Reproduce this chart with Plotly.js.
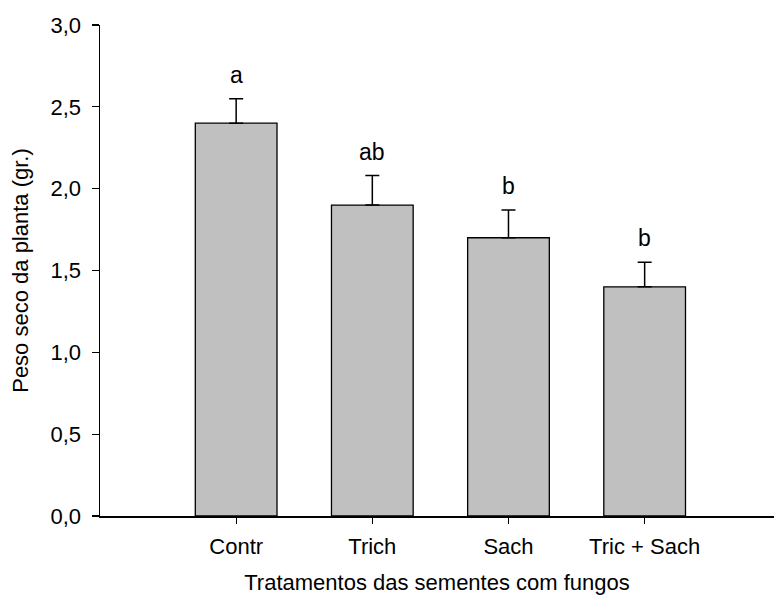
<!DOCTYPE html>
<html>
<head>
<meta charset="utf-8">
<script src="https://cdn.plot.ly/plotly-3.0.1.min.js"></script>
<style>html,body{margin:0;padding:0;background:#fff;}#chart{width:774px;height:603px;}</style>
</head>
<body>
<div id="chart"></div>
<script>
var categories = ["Contr", "Trich", "Sach", "Tric + Sach"];
var values = [2.40, 1.90, 1.70, 1.40];
var errors = [0.15, 0.18, 0.17, 0.15];
var letters = ["a", "ab", "b", "b"];
var yTickVals = [0, 0.5, 1, 1.5, 2, 2.5, 3];
var yTickText = ["0,0", "0,5", "1,0", "1,5", "2,0", "2,5", "3,0"];

var FONT = "Arial, 'Liberation Sans', sans-serif";

var trace = {
  type: "bar",
  x: categories,
  y: values,
  width: 0.6,
  marker: {color: "#c0c0c0", line: {color: "#000", width: 1.3}},
  error_y: {type: "data", array: errors, arrayminus: errors.map(function(){return 0;}), symmetric: false,
            color: "#000", thickness: 1.5, width: 7},
  hoverinfo: "none"
};

var annotations = categories.map(function(c, i) {
  return {x: c, y: values[i] + errors[i], xref: "x", yref: "y", text: letters[i],
          showarrow: false, yanchor: "middle", yshift: 24,
          font: {family: FONT, size: 23, color: "#000"}};
});

var layout = {
  width: 774, height: 603,
  margin: {l: 100, r: 0, t: 25, b: 87},
  paper_bgcolor: "#fff", plot_bgcolor: "#fff",
  showlegend: false,
  font: {family: FONT, size: 22, color: "#000"},
  xaxis: {
    type: "category", range: [-1, 3.95], fixedrange: true,
    showline: true, linecolor: "#000", linewidth: 2,
    ticks: "outside", ticklen: 6, tickwidth: 1.3, tickcolor: "#000",
    ticklabelstandoff: 4,
    showgrid: false, zeroline: false,
    tickfont: {family: FONT, size: 22, color: "#000"},
    title: {text: "Tratamentos das sementes com fungos", font: {family: FONT, size: 22, color: "#000"}, standoff: 16},
    automargin: false
  },
  yaxis: {
    range: [0, 3], fixedrange: true,
    tickvals: yTickVals, ticktext: yTickText,
    showline: true, linecolor: "#000", linewidth: 1.5,
    ticks: "outside", ticklen: 7, tickwidth: 1.3, tickcolor: "#000",
    ticklabelstandoff: 6,
    showgrid: false, zeroline: false,
    tickfont: {family: FONT, size: 22, color: "#000"},
    title: {text: "Peso seco da planta (gr.)", font: {family: FONT, size: 22, color: "#000"}, standoff: 16},
    automargin: false
  },
  annotations: annotations
};

Plotly.newPlot("chart", [trace], layout, {displayModeBar: false, staticPlot: true});
</script>
</body>
</html>
